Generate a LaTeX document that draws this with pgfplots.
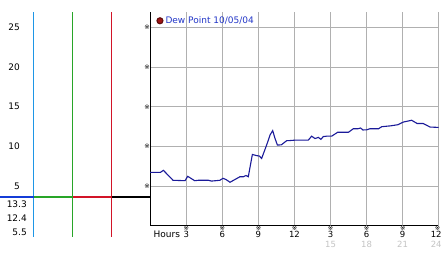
\documentclass[border=0pt]{standalone}
\usepackage{pgfplots}
\pgfplotsset{compat=1.18}
\usepackage{fontspec}
\setmainfont{DejaVu Sans}
\definecolor{dewline}{HTML}{1A1A99}
\definecolor{legblue}{HTML}{2236C8}
\definecolor{dotred}{HTML}{A01414}
\definecolor{gridc}{HTML}{B0B0B0}
\definecolor{vcyan}{RGB}{30,150,230}
\definecolor{hblue}{RGB}{20,60,215}
\definecolor{vgreen}{RGB}{40,165,40}
\definecolor{vred}{RGB}{210,20,40}
\definecolor{secrow}{HTML}{C4C4C4}
\newcommand\xm{{\fontsize{6.5}{6.5}\selectfont ※}}
\begin{document}
\begin{tikzpicture}
\useasboundingbox (0,0) rectangle (442pt,253pt);
\fill[white] (0,0) rectangle (442pt,253pt);
% left gauge panel
\fill[vcyan] (33pt,16pt) rectangle (34.2pt,240.5pt);
\fill[vgreen] (72pt,16pt) rectangle (73.2pt,240.5pt);
\fill[vred] (111pt,16pt) rectangle (112.2pt,240.5pt);
% main chart
\begin{axis}[
  at={(150.2pt,27pt)}, anchor=south west,
  scale only axis, width=288.5pt, height=213.5pt,
  xmin=0, xmax=24, ymin=0, ymax=26.86,
  axis x line*=bottom, axis y line*=left,
  axis line style={-, black, line width=1pt},
  major tick length=0pt,
  grid=major, major grid style={gridc, line width=0.8pt},
  xtick={3,6,9,12,15,18,21,24},
  xticklabels={3,6,9,12,3,6,9,{\hspace*{-5pt}12}},
  xticklabel style={anchor=north, inner sep=0pt, yshift=-5pt, font=\fontsize{8.5}{10}\selectfont},
  extra x ticks={15,18,21,24},
  extra x tick labels={15,18,21,{\hspace*{-5pt}24}},
  extra x tick style={xticklabel style={yshift=-10pt, text=secrow}},
  ytick={5,10,15,20,25},
  yticklabels={5,10,15,20,25},
  yticklabel style={anchor=east, inner sep=0pt, xshift=-130.2pt, font=\fontsize{9}{10}\selectfont},
  clip=false,
  legend style={draw=none, fill=none, inner sep=0pt, at={(axis cs:0.5,25.82)}, anchor=west,
    font=\fontsize{9}{10}\selectfont, text=legblue},
  legend image code/.code={\draw[fill=dotred, draw=dotred!60!black] (0pt,0pt) circle (3pt);},
]
\addplot[dewline, line width=1.1pt] coordinates {
(0,6.75)(0.85,6.75)(1.1,7.0)(1.9,5.75)(2.9,5.7)(3.12,6.25)(3.7,5.7)(4.0,5.75)
(4.85,5.75)(5.1,5.65)(5.8,5.75)(6.05,6.0)(6.3,5.85)(6.64,5.5)(7.05,5.85)(7.47,6.2)
(7.75,6.2)(7.97,6.35)(8.16,6.2)(8.5,9.0)(8.86,8.85)(9.08,8.8)(9.27,8.5)(9.69,10.2)
(9.97,11.45)(10.19,12.0)(10.38,11.03)(10.58,10.19)(10.9,10.2)(11.35,10.73)(11.63,10.75)
(12.05,10.8)(13.15,10.8)(13.43,11.3)(13.71,11.0)(13.99,11.15)(14.2,10.9)(14.4,11.25)
(14.68,11.3)(15.1,11.3)(15.6,11.8)(16.5,11.8)(16.9,12.24)(17.3,12.24)(17.5,12.33)
(17.7,12.08)(18.0,12.1)(18.29,12.24)(19.0,12.24)(19.26,12.49)(20.0,12.6)(20.6,12.74)
(21.07,13.08)(21.75,13.3)(22.2,12.9)(22.7,12.9)(23.28,12.45)(24,12.4)};
\addlegendentry{Dew Point 10/05/04}
\end{axis}
% frame decorations in pixel coordinates
\begin{axis}[
  at={(0pt,0pt)}, anchor=south west,
  scale only axis, width=442pt, height=253pt,
  xmin=0, xmax=442, ymin=0, ymax=253, y dir=reverse,
  hide axis, clip=false,
]
\addplot[color=hblue, line width=2.2pt] coordinates {(0,196.7)(33.5,196.7)};
\addplot[color=vgreen, line width=2.2pt] coordinates {(33.5,196.7)(72.5,196.7)};
\addplot[color=vred, line width=2.2pt] coordinates {(72.5,196.7)(111.5,196.7)};
\addplot[color=black, line width=2.2pt] coordinates {(111.5,196.7)(149.5,196.7)};
\node[anchor=east, inner sep=0pt, font=\fontsize{9}{10}\selectfont] at (axis cs:27,204.3) {13.3};
\node[anchor=east, inner sep=0pt, font=\fontsize{9}{10}\selectfont] at (axis cs:27,218.3) {12.4};
\node[anchor=east, inner sep=0pt, font=\fontsize{9}{10}\selectfont] at (axis cs:27,232.3) {5.5};
\node[anchor=west, inner sep=0pt, font=\fontsize{9}{10}\selectfont] at (axis cs:153.5,234.3) {Hours};
\node[inner sep=0pt] at (axis cs:186.3,228.3) {\xm};
\node[inner sep=0pt] at (axis cs:222.4,228.3) {\xm};
\node[inner sep=0pt] at (axis cs:258.5,228.3) {\xm};
\node[inner sep=0pt] at (axis cs:294.6,228.3) {\xm};
\node[inner sep=0pt] at (axis cs:330.6,228.3) {\xm};
\node[inner sep=0pt] at (axis cs:366.7,228.3) {\xm};
\node[inner sep=0pt] at (axis cs:402.8,228.3) {\xm};
\node[inner sep=0pt] at (axis cs:437.5,228.3) {\xm};
\node[inner sep=0pt] at (axis cs:147,27.3) {\xm};
\node[inner sep=0pt] at (axis cs:147,67.1) {\xm};
\node[inner sep=0pt] at (axis cs:147,106.8) {\xm};
\node[inner sep=0pt] at (axis cs:147,146.5) {\xm};
\node[inner sep=0pt] at (axis cs:147,186.3) {\xm};
\end{axis}
\end{tikzpicture}
\end{document}
